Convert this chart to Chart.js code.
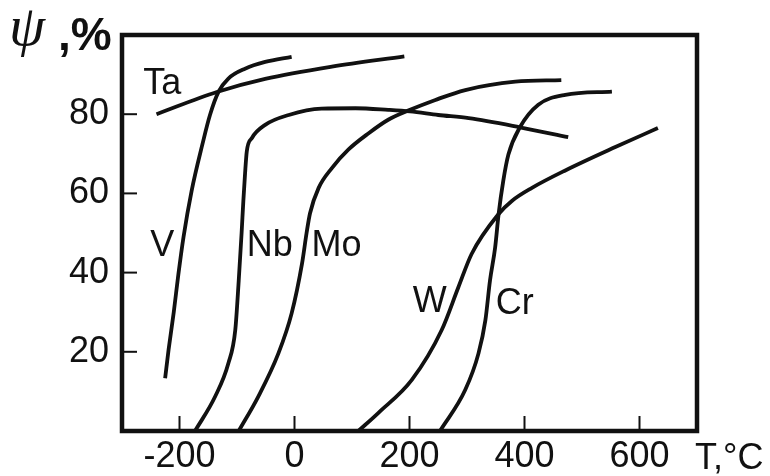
<!DOCTYPE html>
<html>
<head>
<meta charset="utf-8">
<script src="https://cdn.jsdelivr.net/npm/chart.js@4.4.1/dist/chart.umd.min.js"></script>
<style>
  html, body { margin: 0; padding: 0; background: #fff; }
  #wrap { width: 770px; height: 476px; }
</style>
</head>
<body>
<div id="wrap"><canvas id="ductility" width="770" height="476"></canvas></div>
<script>
// tick labels
const xTicks = [-200, 0, 200, 400, 600];
const yTicks = [20, 40, 60, 80];

// curves: temperature (°C) and reduction of area psi (%)
const tTa = [-240, -135, -51, 65, 191];
const psiTa = [80, 85.6, 88.9, 92.0, 94.6];

const tV = [-225, -219, -210, -202, -193, -179, -160, -147, -132, -115, -86, -51, -5];
const psiV = [13.3, 20.5, 30, 39.5, 49, 60.6, 72.5, 79.8, 85.7, 89, 91.5, 93.2, 94.5];

const tNb = [-173, -138, -115, -103, -97, -92, -89, -86, -83, -74, -51, -10, 47, 106, 163, 201, 250, 303, 392, 476];
const psiNb = [0, 8.7, 17.1, 25.5, 38, 50, 58, 65, 70.6, 74, 77.3, 79.8, 81.4, 81.5, 81.1, 80.7, 79.8, 79, 76.7, 74.2];

const tMo = [-97, -63, -28, -5, 13, 21, 27, 42, 65, 94, 129, 163, 201, 245, 297, 384, 464];
const psiMo = [0, 8.7, 19.6, 29.7, 42.2, 50, 55, 61.4, 66.4, 71.1, 75.2, 78.6, 81.1, 83.6, 86.1, 88.2, 88.6];

const tW = [111, 146, 204, 256, 285, 308, 355, 378, 413, 471, 558, 632];
const psiW = [0, 4.6, 12.9, 25.5, 36.3, 44.7, 54.8, 58.1, 61.4, 65.8, 71.7, 76.5];

const tCr = [253, 297, 320, 332, 340, 349, 355, 363, 372, 392, 424, 471, 552];
const psiCr = [0, 10.4, 19.6, 28, 38, 46.4, 54.8, 63.1, 69.8, 76.7, 82.4, 84.9, 85.7];

// curve names and where they sit (data units)
const curveNames = ['Ta', 'V', 'Nb', 'Mo', 'W', 'Cr'];
const nameT = [-230, -230, -43, 73, 235, 383];
const namePsi = [87.5, 46.8, 46.8, 46.8, 32.5, 32];

const FONT = '"Liberation Sans", Arial, sans-serif';

function pts(t, p) {
    return t.map((v, i) => ({ x: v, y: p[i] }));
}

function curve(t, p) {
    return {
        data: pts(t, p),
        showLine: true,
        borderColor: '#111',
        borderWidth: 3.8,
        pointRadius: 0,
        cubicInterpolationMode: 'monotone',
        fill: false
    };
}

const decor = {
    id: 'decor',
    afterDraw(chart) {
        const c = chart.ctx;
        const a = chart.chartArea;
        const xs = chart.scales.x;
        const ys = chart.scales.y;
        c.save();

        // inward ticks
        c.strokeStyle = '#111';
        c.lineWidth = 2;
        xTicks.forEach(v => {
            const px = xs.getPixelForValue(v);
            c.beginPath();
            c.moveTo(px, a.bottom);
            c.lineTo(px, a.bottom - 15);
            c.stroke();
        });
        yTicks.forEach(v => {
            const py = ys.getPixelForValue(v);
            c.beginPath();
            c.moveTo(a.left, py);
            c.lineTo(a.left + 15, py);
            c.stroke();
        });

        // frame
        c.lineWidth = 4.5;
        c.strokeRect(a.left, a.top, a.right - a.left, a.bottom - a.top);

        // curve names
        c.fillStyle = '#111';
        c.font = '36px ' + FONT;
        c.textAlign = 'center';
        c.textBaseline = 'middle';
        curveNames.forEach((n, i) => {
            c.fillText(n, xs.getPixelForValue(nameT[i]), ys.getPixelForValue(namePsi[i]));
        });

        // axis titles
        c.textBaseline = 'alphabetic';
        c.textAlign = 'left';
        c.font = '36px ' + FONT;
        c.fillText('T,°C', 695, 469);
        c.font = 'italic 58px "Liberation Serif", "Times New Roman", serif';
        c.fillText('ψ', 9, 45);
        c.font = 'bold 46px ' + FONT;
        c.fillText(',%', 58, 50);
        c.restore();
    }
};

new Chart(document.getElementById('ductility'), {
    type: 'scatter',
    data: {
        datasets: [
            curve(tTa, psiTa),
            curve(tV, psiV),
            curve(tNb, psiNb),
            curve(tMo, psiMo),
            curve(tW, psiW),
            curve(tCr, psiCr)
        ]
    },
    options: {
        responsive: false,
        animation: false,
        layout: { padding: { left: 0, top: 35, right: 73, bottom: 0 } },
        plugins: {
            legend: { display: false },
            tooltip: { enabled: false }
        },
        scales: {
            x: {
                type: 'linear',
                min: -300,
                max: 700,
                afterBuildTicks: s => { s.ticks = xTicks.map(v => ({ value: v })); },
                afterFit: s => { s.height = 45; },
                grid: { display: false, drawTicks: false },
                border: { display: false },
                ticks: { color: '#111', font: { family: FONT, size: 36 }, padding: 4 }
            },
            y: {
                type: 'linear',
                min: 0,
                max: 100,
                afterBuildTicks: s => { s.ticks = yTicks.map(v => ({ value: v })); },
                afterFit: s => { s.width = 122; },
                grid: { display: false, drawTicks: false },
                border: { display: false },
                ticks: { color: '#111', font: { family: FONT, size: 36 }, padding: 13 }
            }
        }
    },
    plugins: [decor]
});
</script>
</body>
</html>
